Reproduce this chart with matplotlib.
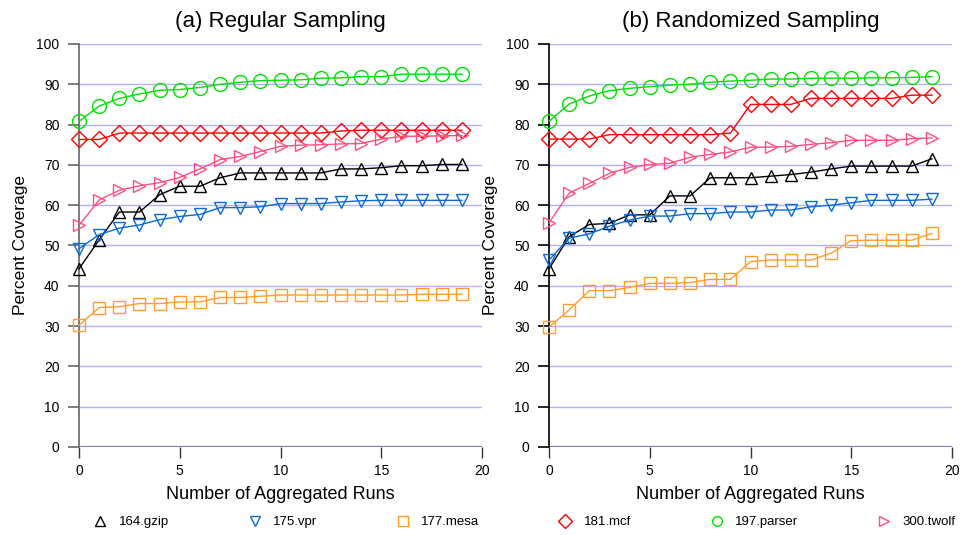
import matplotlib
matplotlib.use("Agg")
import matplotlib.pyplot as plt

plt.rcParams['font.family'] = ['Liberation Sans', 'DejaVu Sans']

runs = list(range(20))

# (a) Regular Sampling
reg_gzip = [44.2, 51.4, 58.3, 58.3, 62.6, 64.7, 64.7, 66.8, 68.0, 68.0,
            68.0, 68.0, 68.0, 69.0, 69.0, 69.3, 69.8, 69.8, 70.1, 70.1]
reg_vpr = [49.2, 52.7, 54.3, 55.1, 56.4, 57.2, 57.7, 59.4, 59.4, 59.6,
           60.4, 60.4, 60.4, 60.8, 61.1, 61.2, 61.2, 61.2, 61.2, 61.2]
reg_mesa = [30.2, 34.6, 34.8, 35.6, 35.6, 36.0, 36.0, 37.1, 37.1, 37.4,
            37.7, 37.7, 37.7, 37.7, 37.7, 37.7, 37.7, 37.9, 37.9, 37.9]
reg_mcf = [76.3, 76.3, 77.9, 77.9, 77.9, 77.9, 77.9, 77.9, 77.9, 77.9,
           77.9, 77.9, 77.9, 78.4, 78.6, 78.6, 78.6, 78.6, 78.6, 78.6]
reg_parser = [80.8, 84.6, 86.5, 87.6, 88.5, 88.7, 89.2, 90.0, 90.5, 90.9,
              91.0, 91.1, 91.5, 91.6, 91.9, 91.9, 92.5, 92.5, 92.5, 92.5]
reg_twolf = [55.0, 61.3, 63.7, 64.8, 65.6, 66.9, 69.0, 71.3, 72.1, 73.3,
             74.6, 74.9, 75.0, 75.2, 75.3, 76.4, 77.1, 77.1, 77.2, 77.3]

# (b) Randomized Sampling
rnd_gzip = [44.2, 52.2, 55.2, 55.5, 57.6, 57.6, 62.3, 62.3, 66.8, 66.8,
            66.8, 67.2, 67.6, 68.2, 69.0, 69.7, 69.7, 69.7, 69.7, 71.5]
rnd_vpr = [46.4, 51.8, 52.9, 54.8, 56.3, 57.3, 57.3, 57.9, 57.9, 58.3,
           58.3, 58.8, 58.8, 59.6, 60.0, 60.6, 61.2, 61.2, 61.2, 61.5]
rnd_mesa = [29.7, 34.0, 38.8, 38.8, 39.6, 40.6, 40.6, 40.8, 41.6, 41.6,
            46.0, 46.4, 46.4, 46.4, 48.1, 51.2, 51.3, 51.3, 51.3, 53.0]
rnd_mcf = [76.4, 76.4, 76.4, 77.5, 77.5, 77.5, 77.5, 77.5, 77.5, 77.9,
           85.0, 85.0, 85.0, 86.5, 86.5, 86.5, 86.5, 86.5, 87.3, 87.3]
rnd_parser = [80.8, 85.1, 87.1, 88.4, 89.0, 89.4, 89.8, 90.0, 90.5, 90.8,
              91.0, 91.3, 91.3, 91.5, 91.5, 91.5, 91.6, 91.6, 91.7, 91.9]
rnd_twolf = [55.6, 63.0, 65.4, 67.9, 69.4, 70.1, 70.4, 71.9, 72.6, 73.2,
             74.4, 74.4, 74.6, 75.1, 75.5, 76.1, 76.1, 76.1, 76.5, 76.7]

names = ['164.gzip', '175.vpr', '177.mesa', '181.mcf', '197.parser', '300.twolf']
colors = ['black', '#0a6ad6', '#ff9e2c', '#ff0000', '#00e000', '#ff4f80']
markers = ['^', 'v', 's', 'D', 'o', '>']
msizes = [9, 9, 8, 8, 10, 9]

panels = [
    ("(a) Regular Sampling", [reg_gzip, reg_vpr, reg_mesa, reg_mcf, reg_parser, reg_twolf], '#666666'),
    ("(b) Randomized Sampling", [rnd_gzip, rnd_vpr, rnd_mesa, rnd_mcf, rnd_parser, rnd_twolf], 'black'),
]

fig = plt.figure(figsize=(9.61, 5.35), dpi=100)
lefts = [0.0822, 0.5713]

for left, (title, series, spc) in zip(lefts, panels):
    ax = fig.add_axes([left, 0.1645, 0.4194, 0.7533])
    for y in range(10, 101, 10):
        ax.axhline(y, color='#b0b0ff', lw=1.0, zorder=0)
    ax.axhline(0, color='#8080b0', lw=1.6, zorder=0)
    for vals, c, m, ms in zip(series, colors, markers, msizes):
        ax.plot(runs, vals, color=c, lw=1.0, marker=m, markersize=ms,
                markerfacecolor='none', markeredgecolor=c, markeredgewidth=1.0,
                clip_on=False, zorder=3)
    ax.set_xlim(0, 20)
    ax.set_ylim(0, 100)
    ax.set_xticks([0, 5, 10, 15, 20])
    ax.set_yticks(range(0, 101, 10))
    for s in ['top', 'right', 'bottom']:
        ax.spines[s].set_visible(False)
    ax.spines['left'].set_color(spc)
    ax.spines['left'].set_linewidth(1.2)
    ax.tick_params(axis='y', direction='out', length=8, width=1.2, color=spc,
                   labelsize=10, pad=6)
    ax.tick_params(axis='x', direction='out', length=8, width=1.0, color='#333333',
                   labelsize=10, pad=4)
    ax.set_title(title, fontsize=16, pad=12)
    ax.set_xlabel("Number of Aggregated Runs", fontsize=13, labelpad=6)
    ax.set_ylabel("Percent Coverage", fontsize=12.5, labelpad=6)
    ax.patch.set_visible(False)

handles = [plt.Line2D([], [], linestyle='none', marker=m, color=c, markersize=7,
                      markerfacecolor='none', markeredgewidth=1.0)
           for c, m in zip(colors, markers)]
fig.legend(handles, names, loc='center', bbox_to_anchor=(0.546, 0.024), ncol=6,
           frameon=False, fontsize=9.5, handlelength=1.0, handletextpad=0.9,
           columnspacing=6.0)

fig.savefig("out.png", dpi=100)
